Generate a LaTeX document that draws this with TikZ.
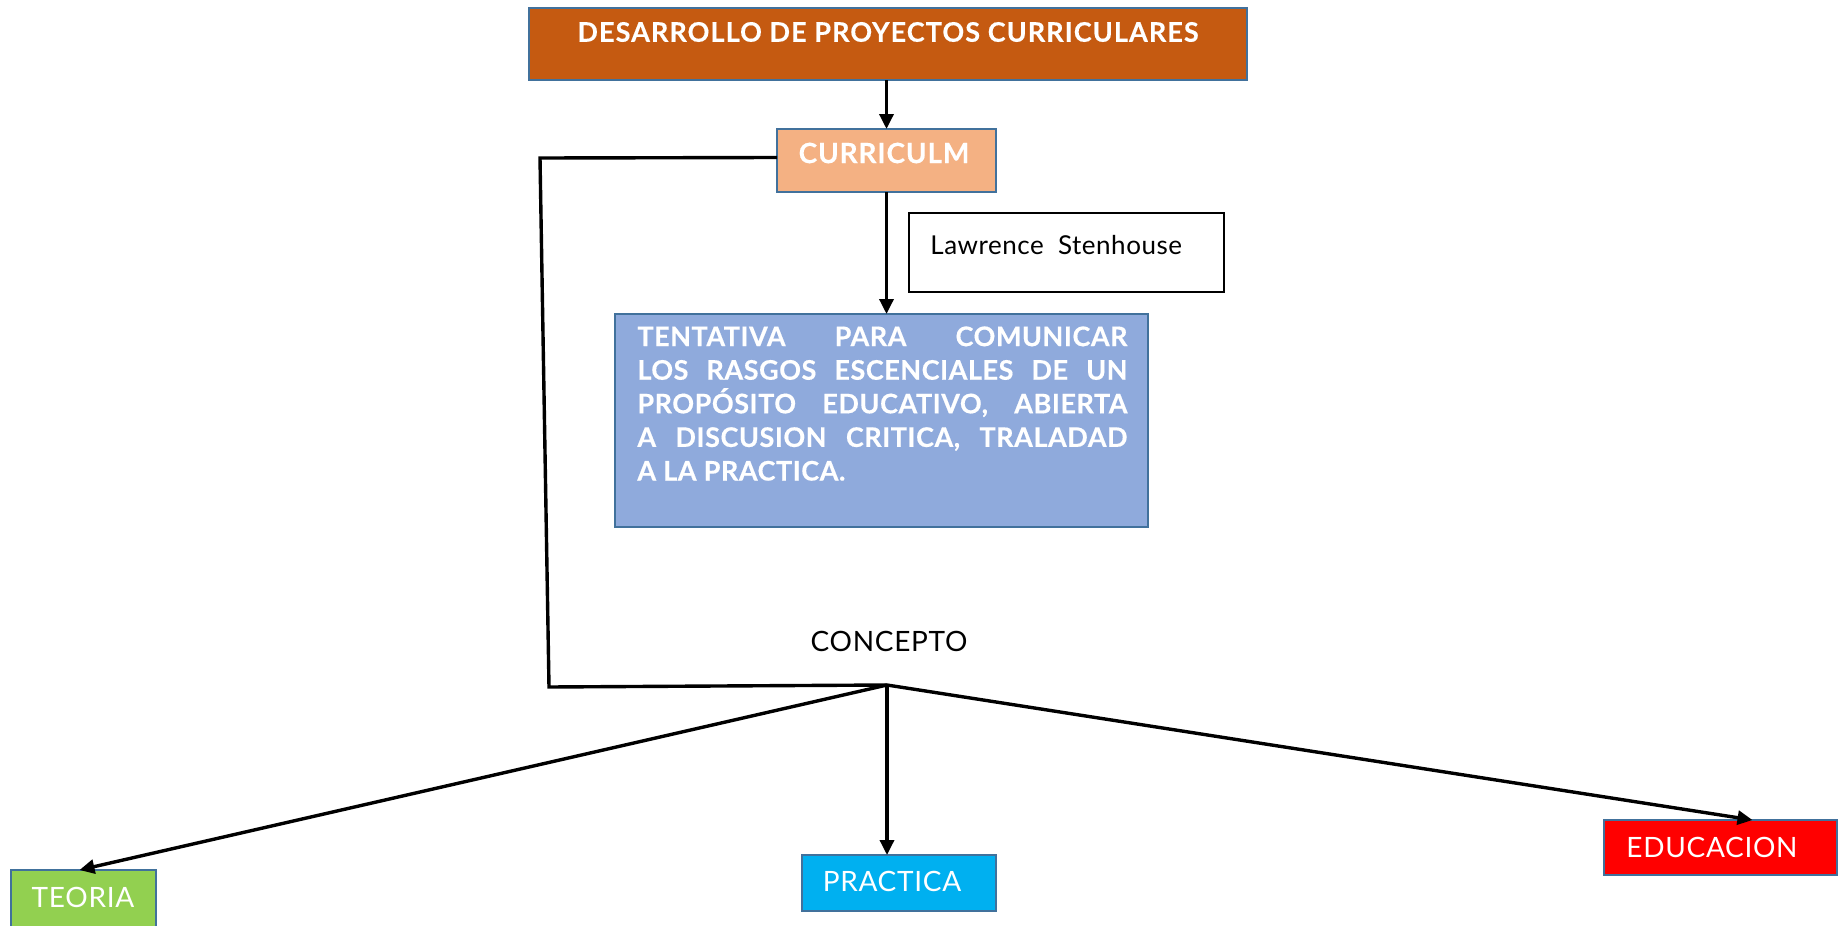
\documentclass[tikz,border=0pt]{standalone}
\usepackage{fontspec}
\setmainfont{Lato}
\usetikzlibrary{arrows.meta,calc}
\definecolor{cBrown}{HTML}{C55A11}
\definecolor{cPeach}{HTML}{F4B183}
\definecolor{cBlue}{HTML}{8FAADC}
\definecolor{cGreen}{HTML}{92D050}
\definecolor{cCyan}{HTML}{00B0F0}
\definecolor{cRed}{HTML}{FF0000}
\definecolor{cBorder}{HTML}{41719C}
\newcommand{\regfont}{\fontsize{14}{16}\selectfont\addfontfeatures{LetterSpace=2.5}}
\newcommand{\jline}[1]{\hbox to 245pt{#1}}
\tikzset{
  boxstyle/.style={draw=cBorder, line width=1pt, rectangle, inner sep=0pt, outer sep=0pt},
  arr/.style={line width=1.7pt, -{Triangle[length=7.5pt,width=7pt]}},
  link/.style={line width=1.7pt},
  wtxt/.style={text=white, inner sep=0pt, font=\regfont},
  btxt/.style={text=black, inner sep=0pt, font=\regfont},
}
\begin{document}
\begin{tikzpicture}[x=0.5pt,y=-0.5pt]
\useasboundingbox (0,0) rectangle (1844,926);
% boxes
\node[boxstyle, fill=cBrown, minimum width=359pt, minimum height=36pt] (top) at (888,44) {};
\node[boxstyle, fill=cPeach, minimum width=109.5pt, minimum height=31.5pt] (curr) at (886.5,160.5) {};
\node[draw=black, line width=0.8pt, fill=white, rectangle, inner sep=0pt, outer sep=0pt, minimum width=157.5pt, minimum height=39.5pt] (law) at (1066.5,252.5) {};
\node[boxstyle, fill=cBlue, minimum width=266.5pt, minimum height=106.5pt] (tent) at (881.5,420.5) {};
\node[boxstyle, fill=cGreen, minimum width=72.5pt, minimum height=34pt] (teo) at (83.5,904) {};
\node[boxstyle, fill=cCyan, minimum width=97pt, minimum height=28pt] (prac) at (899,883) {};
\node[boxstyle, fill=cRed, minimum width=116.5pt, minimum height=27.5pt] (edu) at (1720.5,847.5) {};
% texts
\node[text=white, inner sep=0pt, font=\bfseries\fontsize{13.5}{16}\selectfont\addfontfeatures{LetterSpace=4,FakeBold=0.3}] (ttop) at (888,32) {DESARROLLO DE PROYECTOS CURRICULARES};
\node[text=white, inner sep=0pt, font=\bfseries\fontsize{14}{16}\selectfont\addfontfeatures{LetterSpace=3,FakeBold=0.3}] (tcurr) at (884,153) {CURRICULM};
\node[inner sep=0pt, anchor=west, font=\fontsize{13}{15}\selectfont\addfontfeatures{LetterSpace=2}] (tlaw) at (930,245) {Lawrence\ \ Stenhouse};
\node[text=white, inner sep=0pt, anchor=north west, align=left, font=\bfseries\fontsize{13.5}{16.8}\selectfont\addfontfeatures{LetterSpace=2,FakeBold=0.4}] (ttent) at (637,326)
  {\jline{TENTATIVA\hfill PARA\hfill COMUNICAR}\\
   \jline{LOS\hfill RASGOS\hfill ESCENCIALES\hfill DE\hfill UN}\\
   \jline{PROPÓSITO\hfill EDUCATIVO,\hfill ABIERTA}\\
   \jline{A\hfill DISCUSION\hfill CRITICA,\hfill TRALADAD}\\
   A LA PRACTICA.};
\node[btxt] (tcon) at (889,641) {CONCEPTO};
\node[wtxt] (tteo) at (83,897) {TEORIA};
\node[wtxt] (tprac) at (892,881) {PRACTICA};
\node[wtxt, anchor=west] (tedu) at (1626,847) {EDUCACION};
% connectors
\coordinate (c1) at (540,158);
\coordinate (c2) at (549,687);
\coordinate (j) at (887,685);
\draw[arr] (curr.north |- top.south) -- (curr.north);
\draw[arr] (curr.south) -- (curr.south |- tent.north);
\draw[link, line join=miter] ([yshift=1.5pt]curr.west) -- (c1) -- (c2) -- (j);
\draw[arr] (j) -- ([xshift=-2pt]teo.north);
\draw[arr] (j) -- (j |- prac.north);
\draw[arr] (j) -- ($(edu.north)+(32,0)$);
\end{tikzpicture}
\end{document}
